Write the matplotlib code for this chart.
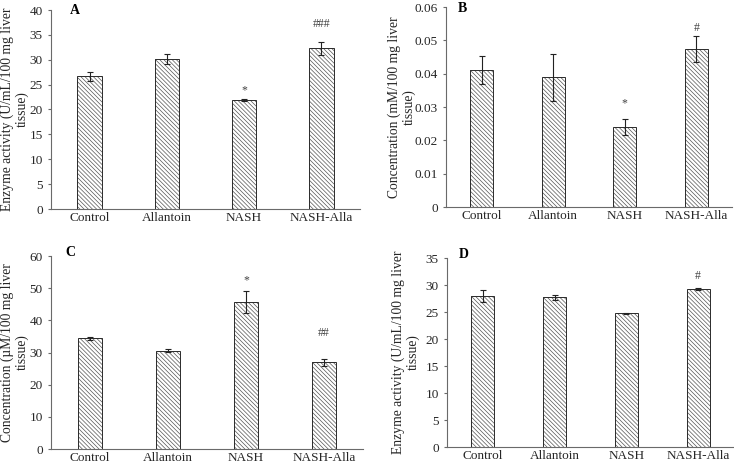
import matplotlib.pyplot as plt
import numpy as np

plt.rcParams['font.family'] = ['Liberation Serif', 'DejaVu Serif']
plt.rcParams['hatch.linewidth'] = 0.5

groups = ['Control', 'Allantoin', 'NASH', 'NASH-Alla']

# panel A
a_vals = [26.7, 30.2, 21.9, 32.3]
a_err = [0.9, 1.0, 0.2, 1.35]
a_marks = ['', '', '*', '###']

# panel B
b_vals = [0.0411, 0.0389, 0.0239, 0.0475]
b_err = [0.0041, 0.0070, 0.0024, 0.0039]
b_marks = ['', '', '*', '#']

# panel C
c_vals = [34.4, 30.6, 45.6, 27.0]
c_err = [0.4, 0.5, 3.4, 1.1]
c_marks = ['', '', '*', '##']

# panel D
d_vals = [27.9, 27.7, 24.8, 29.3]
d_err = [1.1, 0.4, 0.1, 0.2]
d_marks = ['', '', '', '#']

W, H = 734, 469
fig = plt.figure(figsize=(W / 100, H / 100), dpi=100)

def px_axes(l, t, r, b):
    return fig.add_axes([l / W, 1 - b / H, (r - l) / W, (b - t) / H])

def draw(ax, vals, err, marks, ymax, step, ylabel, letter, lx, ly, labx,
         star_off, hash_off, fmt=None):
    x = np.arange(len(groups))
    # hatch layer in grey, outline on top in darker grey
    ax.bar(x, vals, width=0.32, color='white', edgecolor='#555555',
           linewidth=0, hatch='\\\\\\\\\\\\\\\\', zorder=2)
    ax.bar(x, vals, width=0.32, fill=False, edgecolor='#2a2a2a',
           linewidth=0.7, zorder=2.5)
    ax.errorbar(x, vals, yerr=err, fmt='none', ecolor='#222222',
                elinewidth=0.8, capsize=2.2, capthick=0.8, zorder=3)
    for xi, v, e, m in zip(x, vals, err, marks):
        if m:
            off = star_off if m == '*' else hash_off
            ax.annotate(m, (xi, v + e), xytext=(0, off), textcoords='offset points',
                        ha='center', va='bottom', fontsize=8.5, color='#404040')
    ax.set_xlim(-0.5, len(groups) - 0.5)
    ax.set_ylim(0, ymax)
    ticks = np.arange(0, ymax + step / 2, step)
    ax.set_yticks(ticks)
    if fmt:
        ax.set_yticklabels([fmt(t) for t in ticks])
    ax.set_xticks(x)
    ax.set_xticklabels(groups)
    for s in ['top', 'right']:
        ax.spines[s].set_visible(False)
    for s in ['left', 'bottom']:
        ax.spines[s].set_color('#6a6a6a')
        ax.spines[s].set_linewidth(0.8)
    ax.tick_params(axis='x', length=0, labelsize=9.5, colors='#262626', pad=2)
    ax.tick_params(axis='y', length=2.5, width=0.8, color='#6a6a6a',
                   labelsize=9.5, labelcolor='#262626', pad=3.5)
    ax.set_ylabel(ylabel, fontsize=9.8, color='#262626', linespacing=1.1, va='center')
    ax.yaxis.set_label_coords(labx, 0.5)
    ax.text(lx, ly, letter, transform=ax.transAxes, fontsize=10, fontweight='bold',
            ha='left', va='center')

ax1 = px_axes(51, 10, 360, 209)
draw(ax1, a_vals, a_err, a_marks, 40, 5,
     'Enzyme activity (U/mL/100 mg liver\ntissue)', 'A', 0.06, 1.0, -0.117,
     star_off=2, hash_off=8)

ax2 = px_axes(446, 7, 732, 207)
draw(ax2, b_vals, b_err, b_marks, 0.06, 0.01,
     'Concentration (mM/100 mg liver\ntissue)', 'B', 0.04, 0.99, -0.156,
     star_off=7, hash_off=1.5,
     fmt=lambda t: '0' if t == 0 else ('%.2f' % t))

ax3 = px_axes(51, 256, 363, 449)
draw(ax3, c_vals, c_err, c_marks, 60, 10,
     'Concentration (\u00b5M/100 mg liver\ntissue)', 'C', 0.045, 1.02, -0.116,
     star_off=3.3, hash_off=14)

ax4 = px_axes(447, 258, 734, 447)
draw(ax4, d_vals, d_err, d_marks, 35, 5,
     'Enzyme activity (U/mL/100 mg liver\ntissue)', 'D', 0.04, 1.02, -0.144,
     star_off=3, hash_off=4.3)

fig.savefig('out.png', dpi=100)
